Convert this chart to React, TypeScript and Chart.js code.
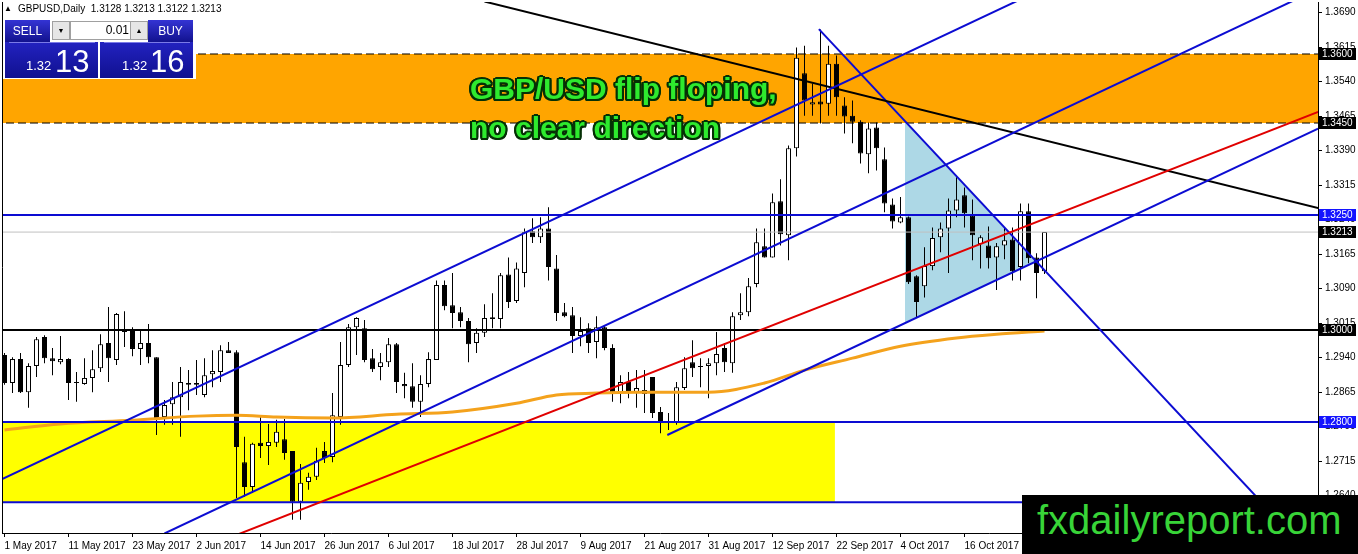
import React, { useEffect, useRef } from 'react';
import { Chart, registerables } from 'chart.js';

Chart.register(...registerables);

// ---- Daily GBPUSD candles, 1 May 2017 .. 30 Oct 2017 (bar index 0..130) ----
const opens = [
  1.2946, 1.2885, 1.2937, 1.2865, 1.2922, 1.2985, 1.2939, 1.2930, 1.2937, 1.2887,
  1.2883, 1.2896, 1.2917, 1.2972, 1.2935, 1.2998, 1.2998, 1.2959, 1.2972, 1.2941,
  1.2811, 1.2839, 1.2854, 1.2885, 1.2881, 1.2859, 1.2904, 1.2909, 1.2956, 1.2952,
  1.2713, 1.2659, 1.2755, 1.2748, 1.2755, 1.2763, 1.2737, 1.2627, 1.2670, 1.2681,
  1.2737, 1.2724, 1.2811, 1.2924, 1.3006, 1.3004, 1.2939, 1.2920, 1.2930, 1.2969,
  1.2883, 1.2878, 1.2844, 1.2883, 1.2935, 1.3098, 1.3054, 1.3039, 1.3020, 1.2972,
  1.2994, 1.3028, 1.3024, 1.3121, 1.3063, 1.3124, 1.3215, 1.3202, 1.3221, 1.3134,
  1.3039, 1.3032, 1.2987, 1.3004, 1.2974, 1.3006, 1.2961, 1.2865, 1.2887, 1.2865,
  1.2861, 1.2898, 1.2822, 1.2800, 1.2798, 1.2874, 1.2930, 1.2922, 1.2922, 1.2928,
  1.2961, 1.2928, 1.3032, 1.3039, 1.3100, 1.3182, 1.3158, 1.3280, 1.3206, 1.3395,
  1.3558, 1.3490, 1.3497, 1.3492, 1.3579, 1.3488, 1.3466, 1.3453, 1.3382, 1.3440,
  1.3371, 1.3273, 1.3234, 1.3245, 1.3117, 1.3095, 1.3139, 1.3202, 1.3221, 1.3260,
  1.3293, 1.3249, 1.3187, 1.3184, 1.3158, 1.3184, 1.3197, 1.3137, 1.3258, 1.3158,
  1.3128,
];
const highs = [
  1.2950, 1.2941, 1.2950, 1.2928, 1.2985, 1.2989, 1.2961, 1.2987, 1.2939, 1.2909,
  1.2939, 1.2956, 1.2991, 1.3050, 1.3037, 1.3041, 1.3006, 1.2998, 1.3013, 1.2941,
  1.2848, 1.2887, 1.2920, 1.2913, 1.2935, 1.2939, 1.2956, 1.2967, 1.2974, 1.2956,
  1.2768, 1.2755, 1.2815, 1.2796, 1.2805, 1.2807, 1.2737, 1.2709, 1.2690, 1.2744,
  1.2757, 1.2863, 1.2974, 1.3013, 1.3028, 1.3022, 1.2959, 1.2950, 1.2983, 1.2972,
  1.2907, 1.2928, 1.2902, 1.2952, 1.3108, 1.3108, 1.3124, 1.3050, 1.3026, 1.3004,
  1.3056, 1.3080, 1.3124, 1.3158, 1.3147, 1.3221, 1.3243, 1.3245, 1.3267, 1.3163,
  1.3059, 1.3050, 1.3028, 1.3015, 1.3030, 1.3009, 1.2969, 1.2902, 1.2909, 1.2913,
  1.2913, 1.2898, 1.2833, 1.2820, 1.2887, 1.2941, 1.2978, 1.2939, 1.2939, 1.2996,
  1.2972, 1.3039, 1.3080, 1.3113, 1.3221, 1.3221, 1.3297, 1.3328, 1.3401, 1.3614,
  1.3618, 1.3536, 1.3653, 1.3618, 1.3597, 1.3506, 1.3499, 1.3456, 1.3451, 1.3451,
  1.3397, 1.3286, 1.3289, 1.3247, 1.3119, 1.3180, 1.3223, 1.3234, 1.3286, 1.3332,
  1.3310, 1.3284, 1.3206, 1.3225, 1.3189, 1.3223, 1.3223, 1.3275, 1.3275, 1.3167,
  1.3213,
];
const lows = [
  1.2881, 1.2863, 1.2863, 1.2831, 1.2898, 1.2928, 1.2902, 1.2926, 1.2848, 1.2844,
  1.2881, 1.2865, 1.2909, 1.2887, 1.2924, 1.2963, 1.2943, 1.2924, 1.2928, 1.2772,
  1.2794, 1.2794, 1.2768, 1.2826, 1.2859, 1.2854, 1.2876, 1.2887, 1.2950, 1.2635,
  1.2638, 1.2646, 1.2722, 1.2707, 1.2746, 1.2718, 1.2588, 1.2588, 1.2653, 1.2674,
  1.2711, 1.2713, 1.2794, 1.2920, 1.2946, 1.2930, 1.2909, 1.2891, 1.2920, 1.2863,
  1.2852, 1.2831, 1.2811, 1.2876, 1.2935, 1.3043, 1.3004, 1.3006, 1.2930, 1.2950,
  1.2985, 1.3004, 1.3004, 1.3048, 1.3059, 1.3093, 1.3189, 1.3189, 1.3108, 1.3020,
  1.3028, 1.2950, 1.2965, 1.2950, 1.2939, 1.2956, 1.2844, 1.2841, 1.2852, 1.2831,
  1.2820, 1.2809, 1.2776, 1.2783, 1.2794, 1.2870, 1.2898, 1.2876, 1.2852, 1.2902,
  1.2909, 1.2907, 1.3022, 1.3030, 1.3093, 1.3158, 1.3158, 1.3184, 1.3152, 1.3377,
  1.3466, 1.3466, 1.3449, 1.3466, 1.3466, 1.3427, 1.3406, 1.3362, 1.3341, 1.3347,
  1.3256, 1.3221, 1.3232, 1.3100, 1.3028, 1.3071, 1.3130, 1.3169, 1.3124, 1.3245,
  1.3223, 1.3152, 1.3134, 1.3134, 1.3087, 1.3154, 1.3108, 1.3108, 1.3145, 1.3069,
  1.3122,
];
const closes = [
  1.2885, 1.2937, 1.2865, 1.2922, 1.2980, 1.2939, 1.2932, 1.2937, 1.2885, 1.2885,
  1.2896, 1.2915, 1.2969, 1.2939, 1.3035, 1.2996, 1.2959, 1.2972, 1.2941, 1.2809,
  1.2837, 1.2854, 1.2887, 1.2881, 1.2885, 1.2902, 1.2911, 1.2956, 1.2950, 1.2746,
  1.2659, 1.2753, 1.2748, 1.2757, 1.2779, 1.2733, 1.2627, 1.2668, 1.2681, 1.2716,
  1.2722, 1.2815, 1.2924, 1.3006, 1.3026, 1.2935, 1.2915, 1.2930, 1.2969, 1.2887,
  1.2878, 1.2844, 1.2883, 1.2937, 1.3098, 1.3052, 1.3037, 1.3020, 1.2969, 1.2994,
  1.3026, 1.3024, 1.3119, 1.3061, 1.3134, 1.3213, 1.3202, 1.3221, 1.3137, 1.3037,
  1.3030, 1.2987, 1.2998, 1.2972, 1.3006, 1.2961, 1.2865, 1.2887, 1.2865, 1.2874,
  1.2870, 1.2820, 1.2798, 1.2798, 1.2876, 1.2917, 1.2917, 1.2920, 1.2928, 1.2948,
  1.2930, 1.3030, 1.3039, 1.3095, 1.3191, 1.3158, 1.3278, 1.3208, 1.3395, 1.3592,
  1.3499, 1.3495, 1.3490, 1.3579, 1.3506, 1.3464, 1.3453, 1.3384, 1.3438, 1.3395,
  1.3275, 1.3236, 1.3245, 1.3104, 1.3061, 1.3139, 1.3200, 1.3221, 1.3260, 1.3284,
  1.3254, 1.3206, 1.3202, 1.3156, 1.3182, 1.3195, 1.3128, 1.3258, 1.3156, 1.3124,
  1.3213,
];

// 200-day moving average, read at sample bars
const maIndex = [0, 7, 16, 24, 29, 34, 41, 49, 56, 64, 69, 74, 79, 88, 95, 100, 106, 112, 119, 124, 130];
const maValues = [
  1.2783, 1.2796, 1.2804, 1.2813, 1.2815, 1.2811, 1.2809, 1.2817, 1.2822, 1.2841, 1.2859,
  1.2863, 1.2865, 1.2865, 1.2885, 1.2913, 1.2939, 1.2965, 1.2983, 1.2991, 1.2998,
];

// axis labels
const dateTickIndex = [0, 8, 16, 24, 32, 40, 48, 56, 64, 72, 80, 88, 96, 104, 112, 120];
const dateTickLabels = [
  '1 May 2017', '11 May 2017', '23 May 2017', '2 Jun 2017', '14 Jun 2017', '26 Jun 2017',
  '6 Jul 2017', '18 Jul 2017', '28 Jul 2017', '9 Aug 2017', '21 Aug 2017', '31 Aug 2017',
  '12 Sep 2017', '22 Sep 2017', '4 Oct 2017', '16 Oct 2017',
];
const priceTicks = [
  1.2640, 1.2715, 1.2790, 1.2865, 1.2940, 1.3015, 1.3090, 1.3165, 1.3240, 1.3315,
  1.3390, 1.3465, 1.3540, 1.3615, 1.3690,
];

// horizontal levels and zones
const resistanceZone = [1.3450, 1.3600];
const supportZone = [1.2626, 1.2800];
const supportZoneEnd = 103.8;
const blueLevels = [1.3250, 1.2800, 1.2626];
const blackLevel = 1.3000;
const bidLevel = 1.3213;
const boxLevels = [1.3600, 1.3450, 1.3250, 1.3213, 1.3000, 1.2800];
const boxKinds = ['k', 'k', 'b', 'k', 'k', 'b'];

// trend lines: [barIndex, price] end points
const channelUpper = [[-0.56, 1.2674], [128, 1.3727]];
const channelMiddle = [[20, 1.2558], [161, 1.3715]];
const channelLower = [[82.85, 1.2772], [164.2, 1.3438]];
const redLine = [[28, 1.2548], [164.2, 1.3474]];
const blackLine = [[60, 1.3714], [164.2, 1.3265]];
const fallingLine = [[101.8, 1.3654], [161, 1.2554]];
const wedge = [[112.56, 1.3454], [128.94, 1.3150], [112.56, 1.3015], [112.56, 1.3454]];

const X_MIN = -0.3125;
const X_MAX = 164.1875;
const Y_MIN = 1.2559;
const Y_MAX = 1.3713;

const FONT = '"Liberation Sans", Arial, sans-serif';
const BLUE = '#0c0cd2';

const priceBoxPlugin = {
  id: 'priceBoxes',
  afterDraw(chart: any) {
    const { ctx, chartArea, scales } = chart;
    const ys = scales.y;
    ctx.save();
    ctx.strokeStyle = '#000';
    ctx.lineWidth = 1;
    ctx.beginPath();
    ctx.moveTo(chartArea.left + 0.5, chartArea.top);
    ctx.lineTo(chartArea.left + 0.5, chartArea.bottom);
    ctx.stroke();
    ctx.font = '10px ' + FONT;
    ctx.textBaseline = 'middle';
    ctx.textAlign = 'left';
    boxLevels.forEach((v, k) => {
      const py = Math.round(ys.getPixelForValue(v));
      ctx.fillStyle = boxKinds[k] === 'b' ? '#1414ff' : '#000';
      ctx.fillRect(chartArea.right + 1, py - 6, 37, 12);
      ctx.fillStyle = '#fff';
      ctx.fillText(v.toFixed(4), chartArea.right + 4, py + 0.5);
    });
    ctx.restore();
  },
};

function seg(pts: number[][], color: string, width: number, order = 2, extra: any = {}) {
  return {
    type: 'line' as const,
    data: pts.map(([x, y]) => ({ x, y })),
    borderColor: color,
    borderWidth: width,
    pointRadius: 0,
    fill: false,
    tension: 0,
    order,
    ...extra,
  };
}

function hline(level: number, color: string, width: number, extra: any = {}) {
  return seg([[X_MIN - 1, level], [X_MAX + 1, level]], color, width, 2, extra);
}

function App() {
  const canvasRef = useRef<HTMLCanvasElement | null>(null);

  useEffect(() => {
    const idx = opens.map((_, i) => i);
    const datasets: any[] = [
      // background zones
      seg([[X_MIN - 1, resistanceZone[1]], [X_MAX + 1, resistanceZone[1]]], 'rgba(0,0,0,0)', 0, 20, {
        fill: { value: resistanceZone[0] },
        backgroundColor: '#ffa500',
      }),
      seg([[X_MIN - 1, supportZone[1]], [supportZoneEnd, supportZone[1]]], 'rgba(0,0,0,0)', 0, 20, {
        fill: { value: supportZone[0] },
        backgroundColor: '#ffff00',
      }),
      seg(wedge, 'rgba(0,0,0,0)', 0, 20, { fill: 'shape', backgroundColor: '#add8e6' }),
      // candles
      {
        type: 'bar',
        data: idx.map((i) => ({ x: i, y: [lows[i], highs[i]] })),
        backgroundColor: '#000',
        borderWidth: 0,
        barThickness: 1,
        grouped: false,
        inflateAmount: 0,
        order: 6,
      },
      {
        type: 'bar',
        data: idx.map((i) => ({ x: i, y: [opens[i], closes[i]] })),
        backgroundColor: idx.map((i) => (closes[i] >= opens[i] ? '#ffffff' : '#000000')),
        borderColor: '#000',
        borderWidth: 1,
        borderSkipped: false,
        barThickness: 5,
        minBarLength: 1,
        grouped: false,
        inflateAmount: 0,
        order: 5,
      },
      // levels
      hline(bidLevel, '#c0c0c0', 1),
      hline(resistanceZone[1], '#000', 1, { borderDash: [8, 4] }),
      hline(resistanceZone[0], '#000', 1, { borderDash: [8, 4] }),
      hline(blackLevel, '#000', 2),
      ...blueLevels.map((v) => hline(v, BLUE, 2)),
      // moving average
      {
        type: 'line',
        data: maIndex.map((x, k) => ({ x, y: maValues[k] })),
        borderColor: '#f4a21c',
        borderWidth: 3,
        pointRadius: 0,
        fill: false,
        cubicInterpolationMode: 'monotone',
        order: 3,
      },
      // trend lines
      seg(channelUpper, BLUE, 2, 1),
      seg(channelMiddle, BLUE, 2, 1),
      seg(channelLower, BLUE, 2, 1),
      seg(redLine, '#e00000', 2, 1),
      seg(blackLine, '#000', 2, 1),
      seg(fallingLine, BLUE, 2, 1),
    ];

    const chart = new Chart(canvasRef.current as HTMLCanvasElement, {
      type: 'bar',
      data: { datasets },
      plugins: [priceBoxPlugin],
      options: {
        responsive: false,
        animation: false,
        devicePixelRatio: 1,
        events: [],
        layout: { padding: { left: 2, top: 2, right: 0, bottom: 0 } },
        plugins: { legend: { display: false }, tooltip: { enabled: false } },
        scales: {
          x: {
            type: 'linear',
            position: 'bottom',
            min: X_MIN,
            max: X_MAX,
            offset: false,
            afterBuildTicks: (s: any) => {
              s.ticks = dateTickIndex.map((v) => ({ value: v }));
            },
            afterFit: (s: any) => {
              s.height = 21;
              s.paddingLeft = 0;
              s.paddingRight = 0;
              s.paddingTop = 0;
              s.paddingBottom = 0;
            },
            ticks: {
              autoSkip: false,
              maxRotation: 0,
              minRotation: 0,
              align: 'start',
              padding: 3,
              color: '#000',
              font: { family: FONT, size: 10 },
              callback: (v: any) => {
                const k = dateTickIndex.indexOf(Number(v));
                return k >= 0 ? dateTickLabels[k] : '';
              },
            },
            grid: { drawOnChartArea: false, drawTicks: true, tickLength: 4, color: '#000', offset: false },
            border: { display: true, color: '#000', width: 1 },
          },
          y: {
            type: 'linear',
            position: 'right',
            min: Y_MIN,
            max: Y_MAX,
            afterBuildTicks: (s: any) => {
              s.ticks = priceTicks.map((v) => ({ value: v }));
            },
            afterFit: (s: any) => {
              s.width = 40;
              s.paddingLeft = 0;
              s.paddingRight = 0;
              s.paddingTop = 0;
              s.paddingBottom = 0;
            },
            ticks: {
              padding: 3,
              color: '#000',
              font: { family: FONT, size: 10 },
              callback: (v: any) => Number(v).toFixed(4),
            },
            grid: { drawOnChartArea: false, drawTicks: true, tickLength: 4, color: '#000' },
            border: { display: true, color: '#000', width: 1 },
          },
        },
      } as any,
    });
    return () => chart.destroy();
  }, []);

  const oc = '#053005';
  const outline = [
    `2px 0 0 ${oc}`, `-2px 0 0 ${oc}`, `0 2px 0 ${oc}`, `0 -2px 0 ${oc}`,
    `1.5px 1.5px 0 ${oc}`, `-1.5px 1.5px 0 ${oc}`, `1.5px -1.5px 0 ${oc}`, `-1.5px -1.5px 0 ${oc}`,
    `2px 1px 0 ${oc}`, `-2px 1px 0 ${oc}`, `2px -1px 0 ${oc}`, `-2px -1px 0 ${oc}`,
  ].join(',');
  const btn = 'linear-gradient(#3434d4, #12128e)';

  return (
    <div
      style={{
        position: 'absolute', left: 0, top: 0, width: 1358, height: 554,
        overflow: 'hidden', background: '#fff', fontFamily: FONT,
      }}
    >
      <canvas ref={canvasRef} width={1358} height={554} style={{ width: 1358, height: 554, display: 'block' }} />

      {/* header */}
      <div style={{ position: 'absolute', left: 4, top: 4, fontSize: 8, lineHeight: '10px', color: '#000' }}>▲</div>
      <div style={{ position: 'absolute', left: 18, top: 3, fontSize: 10, lineHeight: '12px', color: '#000', whiteSpace: 'pre' }}>
        GBPUSD,Daily  1.3128 1.3213 1.3122 1.3213
      </div>

      {/* one-click trading panel */}
      <div style={{ position: 'absolute', left: 3, top: 17, width: 193, height: 62, background: '#fff' }} />
      <div style={{ position: 'absolute', left: 5, top: 20, width: 45, height: 22, background: btn, color: '#fff', fontSize: 12, lineHeight: '22px', textAlign: 'center' }}>SELL</div>
      <div style={{ position: 'absolute', left: 148, top: 20, width: 45, height: 22, background: btn, color: '#fff', fontSize: 12, lineHeight: '22px', textAlign: 'center' }}>BUY</div>
      <div style={{ position: 'absolute', left: 52, top: 21, width: 16, height: 17, background: '#e6e6e6', border: '1px solid #a0a0a0', fontSize: 7, lineHeight: '17px', textAlign: 'center' }}>▼</div>
      <div style={{ position: 'absolute', left: 70, top: 21, width: 58, height: 17, background: '#fff', border: '1px solid #a0a0a0', fontSize: 12, lineHeight: '17px', textAlign: 'right', paddingRight: 4, boxSizing: 'content-box' }}>0.01</div>
      <div style={{ position: 'absolute', left: 130, top: 21, width: 16, height: 17, background: '#e6e6e6', border: '1px solid #a0a0a0', fontSize: 7, lineHeight: '17px', textAlign: 'center' }}>▲</div>
      <div style={{ position: 'absolute', left: 5, top: 42, width: 93, height: 36, background: 'linear-gradient(#2222c0, #101090)', color: '#fff' }}>
        <div style={{ position: 'absolute', left: 4, top: 0, width: 86, height: 1, background: '#7a7ae8' }} />
        <div style={{ position: 'absolute', left: 21, top: 17, fontSize: 13, lineHeight: '13px' }}>1.32</div>
        <div style={{ position: 'absolute', left: 50, top: 4, fontSize: 31, lineHeight: '31px' }}>13</div>
      </div>
      <div style={{ position: 'absolute', left: 100, top: 42, width: 93, height: 36, background: 'linear-gradient(#2222c0, #101090)', color: '#fff' }}>
        <div style={{ position: 'absolute', left: 4, top: 0, width: 86, height: 1, background: '#7a7ae8' }} />
        <div style={{ position: 'absolute', left: 22, top: 17, fontSize: 13, lineHeight: '13px' }}>1.32</div>
        <div style={{ position: 'absolute', left: 50, top: 4, fontSize: 31, lineHeight: '31px' }}>16</div>
      </div>

      {/* comment */}
      <div
        style={{
          position: 'absolute', left: 470, top: 69, fontSize: 30, lineHeight: '39px', fontWeight: 'bold',
          color: '#2eea2e', textShadow: outline, whiteSpace: 'pre',
        }}
      >
        GBP/USD flip floping,
        <br />
        no clear direction
      </div>

      {/* watermark */}
      <div style={{ position: 'absolute', left: 1022, top: 495, width: 336, height: 59, background: '#000' }}>
        <div style={{ position: 'absolute', left: 15, top: 5, fontSize: 40, lineHeight: '40px', color: '#38d438', whiteSpace: 'pre' }}>
          fxdailyreport.com
        </div>
      </div>
    </div>
  );
}

export default App;
